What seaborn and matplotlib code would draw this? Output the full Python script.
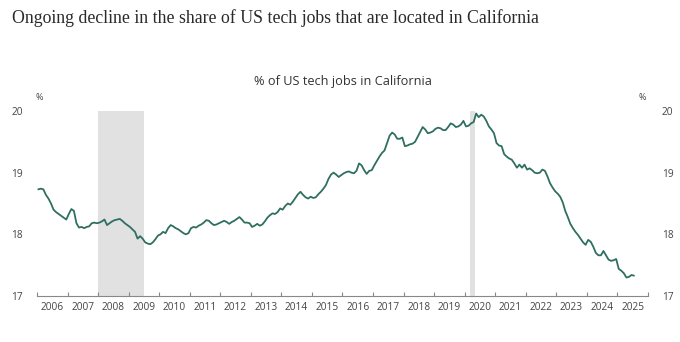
import numpy as np
import pandas as pd
import matplotlib
matplotlib.use("Agg")
import matplotlib.pyplot as plt
import seaborn as sns

# Share of US tech jobs located in California (%), monthly, Jan 2006 - Jul 2025
years = list(range(2006, 2026))
share_by_year = {
    2006: [18.73, 18.74, 18.73, 18.64, 18.58, 18.50, 18.40, 18.36, 18.33, 18.30, 18.27, 18.24],
    2007: [18.33, 18.41, 18.38, 18.18, 18.11, 18.12, 18.10, 18.12, 18.13, 18.18, 18.19, 18.18],
    2008: [18.19, 18.21, 18.24, 18.15, 18.18, 18.21, 18.23, 18.24, 18.25, 18.22, 18.18, 18.15],
    2009: [18.12, 18.08, 18.04, 17.93, 17.97, 17.93, 17.87, 17.85, 17.84, 17.87, 17.92, 17.98],
    2010: [18.00, 18.04, 18.02, 18.10, 18.15, 18.13, 18.10, 18.08, 18.05, 18.02, 18.00, 18.02],
    2011: [18.10, 18.12, 18.11, 18.14, 18.16, 18.19, 18.23, 18.22, 18.18, 18.15, 18.16, 18.18],
    2012: [18.20, 18.22, 18.20, 18.17, 18.20, 18.22, 18.25, 18.28, 18.24, 18.19, 18.19, 18.18],
    2013: [18.12, 18.14, 18.17, 18.14, 18.16, 18.21, 18.27, 18.31, 18.34, 18.33, 18.36, 18.42],
    2014: [18.40, 18.46, 18.50, 18.48, 18.53, 18.59, 18.65, 18.69, 18.64, 18.60, 18.58, 18.61],
    2015: [18.59, 18.60, 18.65, 18.69, 18.74, 18.80, 18.90, 18.97, 19.00, 18.97, 18.93, 18.96],
    2016: [18.99, 19.01, 19.02, 19.00, 18.99, 19.03, 19.15, 19.12, 19.04, 18.98, 19.03, 19.04],
    2017: [19.12, 19.19, 19.26, 19.32, 19.36, 19.48, 19.60, 19.65, 19.62, 19.55, 19.55, 19.57],
    2018: [19.43, 19.44, 19.46, 19.47, 19.50, 19.58, 19.66, 19.74, 19.70, 19.64, 19.65, 19.67],
    2019: [19.71, 19.73, 19.72, 19.69, 19.69, 19.74, 19.80, 19.78, 19.74, 19.75, 19.78, 19.84],
    2020: [19.75, 19.76, 19.80, 19.82, 19.96, 19.90, 19.94, 19.91, 19.84, 19.75, 19.70, 19.64],
    2021: [19.48, 19.44, 19.43, 19.30, 19.26, 19.23, 19.21, 19.15, 19.08, 19.13, 19.08, 19.13],
    2022: [19.05, 19.07, 19.04, 19.00, 18.99, 19.00, 19.05, 19.03, 18.94, 18.83, 18.76, 18.70],
    2023: [18.66, 18.61, 18.52, 18.38, 18.28, 18.17, 18.10, 18.04, 17.99, 17.93, 17.87, 17.83],
    2024: [17.91, 17.88, 17.80, 17.70, 17.66, 17.66, 17.73, 17.66, 17.59, 17.57, 17.58, 17.60],
    2025: [17.44, 17.41, 17.37, 17.30, 17.31, 17.34, 17.33],
}

# Recession periods (start year, start month, end year, end month)
recessions = [(2008, 1, 2009, 6), (2020, 3, 2020, 4)]

y_ticks = [17, 18, 19, 20]

rows = []
for y in years:
    for m, v in enumerate(share_by_year[y]):
        rows.append({"t": y + (m + 0.5) / 12, "share": v})
df = pd.DataFrame(rows)

sns.set_theme(style="white")
plt.rcParams["font.family"] = ["Open Sans", "DejaVu Sans"]

text_col = "#444444"
line_col = "#2f6f60"

fig = plt.figure(figsize=(6.8, 3.42), dpi=100)
ax = fig.add_axes([37 / 680, 46 / 342, (648 - 37) / 680, (296 - 111) / 342])

for sy, sm, ey, em in recessions:
    ax.axvspan(sy + (sm - 1) / 12, ey + em / 12, color="#e1e1e1", lw=0, zorder=0)

sns.lineplot(data=df, x="t", y="share", ax=ax, color=line_col, lw=1.3, zorder=3)

ax.set_xlim(2006, 2026)
ax.set_ylim(17, 20)
ax.set_xlabel("")
ax.set_ylabel("")

# Year boundaries as small tick marks, year labels centred in between
ax.set_xticks(list(range(2006, 2027)))
ax.set_xticklabels([])
ax.set_xticks([y + 0.5 for y in years], minor=True)
ax.set_xticklabels([str(y) for y in years], minor=True)
ax.tick_params(axis="x", which="major", direction="in", length=3, width=0.8,
               color="#888888", bottom=True)
ax.tick_params(axis="x", which="minor", length=0, pad=4, labelsize=7.3,
               labelcolor=text_col)

ax.set_yticks(y_ticks)
ax.set_yticklabels([str(v) for v in y_ticks])
ax.tick_params(axis="y", left=False, right=False, labelleft=True, labelright=True,
               labelsize=7.3, labelcolor=text_col, pad=4)

for s in ["top", "left", "right"]:
    ax.spines[s].set_visible(False)
ax.spines["bottom"].set_color("#888888")
ax.spines["bottom"].set_linewidth(0.8)

ax.text(-0.003, 1.05, "%", transform=ax.transAxes, ha="left", va="bottom",
        fontsize=6.5, color=text_col)
ax.text(0.997, 1.05, "%", transform=ax.transAxes, ha="right", va="bottom",
        fontsize=6.5, color=text_col)

fig.text(343 / 680, 1 - 81 / 342, "% of US tech jobs in California",
         ha="center", va="center", fontsize=9.2, color="#333333")

fig.text(12 / 680, 1 - 18 / 342,
         "Ongoing decline in the share of US tech jobs that are located in California",
         ha="left", va="center", fontsize=12.8, color="#2a2a2a",
         family=["Liberation Serif", "DejaVu Serif"])

fig.savefig("out.png", dpi=100, facecolor="white")
